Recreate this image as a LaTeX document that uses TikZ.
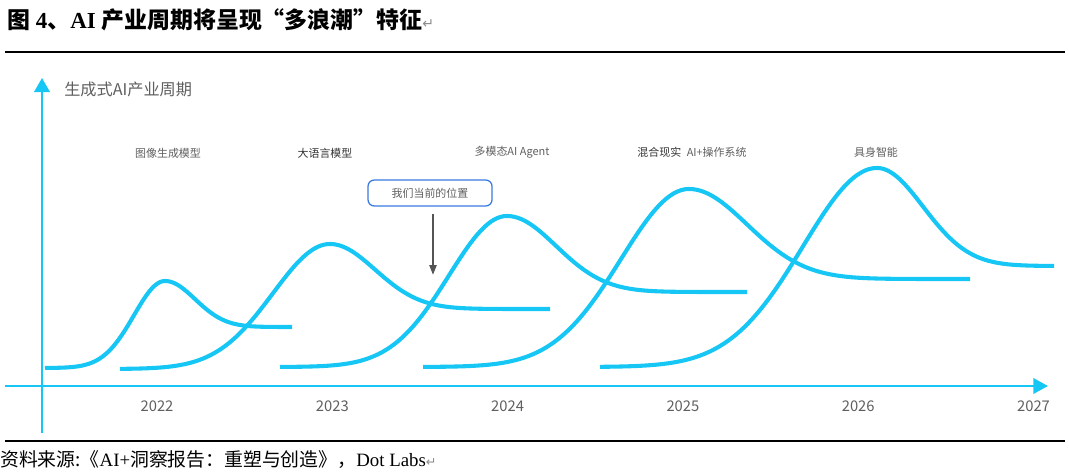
\documentclass[tikz,border=0pt]{standalone}
\usepackage{fontspec}
\setmainfont{Liberation Serif}
\newfontfamily\cjk{Noto Sans CJK SC}
\newfontfamily\symfont{DejaVu Sans}
\usetikzlibrary{arrows.meta,positioning}
\definecolor{wavecyan}{RGB}{22,198,244}
\definecolor{labelgray}{RGB}{95,95,95}
\definecolor{boxblue}{RGB}{58,122,222}
\definecolor{arrowgray}{RGB}{85,85,85}

\begin{document}
\begin{tikzpicture}[x=0.025cm,y=-0.025cm,
  wave/.style={wavecyan,line width=2.9pt},
  axis/.style={wavecyan,line width=1.8pt},
  rulefine/.style={black,line width=0.8pt},
  wavelabel/.style={font=\cjk\fontsize{7.8}{9}\selectfont,text=labelgray,inner sep=0pt},
  yearlabel/.style={font=\cjk\fontsize{10.5}{12}\selectfont,text=labelgray,inner sep=0pt},
  posbox/.style={draw=boxblue,line width=0.9pt,rounded corners=4.5pt,
    minimum width=3.1cm,minimum height=0.65cm,inner sep=0pt,
    font=\cjk\fontsize{7.8}{9}\selectfont,text=labelgray},
  pointer/.style={arrowgray,line width=1.4pt,-{Triangle[width=5pt,length=7pt]}}]
  \useasboundingbox (0,0) rectangle (1069,472);

  % title and rules
  \node[anchor=west,inner sep=0pt,font=\fontsize{16.3}{19}\selectfont] (title) at (7,20)
    {{\cjk\bfseries 图} {\bfseries 4}{\cjk\bfseries 、}{\bfseries AI} {\cjk\bfseries 产业周期将呈现“多浪潮”特征}{\symfont\fontsize{10}{12}\selectfont\color{black!45}↵}};
  \draw[rulefine] (5,52) -- (1065,52);
  \draw[rulefine] (5,441) -- (1065,441);
  \node[anchor=west,inner sep=0pt,font=\fontsize{13.4}{15}\selectfont] (source) at (0,460)
    {{\cjk 资料来源:《}AI+{\cjk 洞察报告：重塑与创造》，}Dot Labs{\symfont\fontsize{9}{11}\selectfont\color{black!45}↵}};

  % axes
  \coordinate (ybot) at (42,433);
  \coordinate (ytop) at (42,78);
  \coordinate (xleft) at (5,386);
  \coordinate (xright) at (1048,386);
  \draw[axis,-{Triangle[width=11pt,length=10pt]}] (ybot) -- (ytop);
  \draw[axis,-{Triangle[width=11pt,length=10.5pt]}] (xleft) -- (xright);
  \node[font=\cjk\fontsize{11.5}{13}\selectfont,text=labelgray,anchor=west,inner sep=0pt] (ytitle) at (64,89) {生成式AI产业周期};

  \foreach \yr [count=\i from 0] in {2022,...,2027}
    \node[yearlabel] (y\yr) at ({157+175.3*\i},406) {\yr};

  % waves
  \foreach \xa/\ya/\xp/\yp/\xe/\ye/\ta/\sg in {45/368/165/281/292/327/31/30,
      120/369/330/244/550/309/57/45, 280/367/507/216/747/292/58/49,
      423/367/689/189/970/279/68/58, 600/367/877/168/1054/266/74/46}
    \draw[wave] plot[domain=\xa:\xp,samples=70]
        (\x,{\ya-(\ya-\yp)*exp(-0.5*((\xp-\x)/\ta)*((\xp-\x)/\ta))})
      -- plot[domain=\xp:\xe,samples=70]
        (\x,{\yp+(\ye-\yp)*(1-exp(-0.5*((\x-\xp)/\sg)*((\x-\xp)/\sg)))});

  \node[wavelabel] (lblimg) at (168,153) {图像生成模型};
  \node[wavelabel,text=black!80] (lbllang) at (325,153) {大语言模型};
  \node[wavelabel] (lblagent) at (512,152) {多模态AI Agent};
  \node[wavelabel] (lblmr) at (692,152) {{\color{black!80}混合现实}\enspace AI+操作系统};
  \node[wavelabel] (lblbody) at (876,152) {具身智能};

  % current position
  \node[posbox] (now) at (430,193) {我们当前的位置};
  \coordinate (nowtip) at (433,275);
  \draw[pointer,shorten <=5.5pt] (now.south -| nowtip) -- (nowtip);
\end{tikzpicture}
\end{document}
